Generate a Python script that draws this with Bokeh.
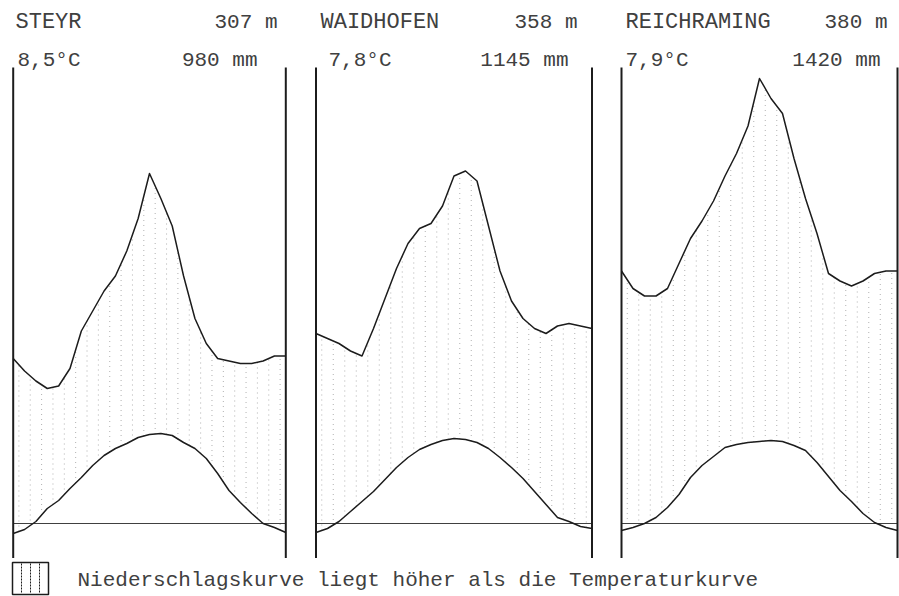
import numpy as np
from bokeh.plotting import figure
from bokeh.layouts import column, row
from bokeh.models import Range1d
from bokeh.embed import file_html
from bokeh.resources import INLINE
from bokeh.core.properties import value

# ---------------- data ----------------
# month position along the year axis (0 = start of January, 12 = end of December)
MONTH_POS = [0, 0.5, 1, 1.5, 2, 2.5, 3, 3.5, 4, 4.5, 5, 5.5, 6,
             6.5, 7, 7.5, 8, 8.5, 9, 9.5, 10, 10.5, 11, 11.5, 12]

STATIONS = ["STEYR", "WAIDHOFEN", "REICHRAMING"]
ALTITUDES = ["307 m", "358 m", "380 m"]
MEAN_TEMPS = ["8,5°C", "7,8°C", "7,9°C"]
ANNUAL_PRECIP = ["980 mm", "1145 mm", "1420 mm"]

# precipitation (mm)
steyr_precip = [66, 61, 57, 54, 55, 62, 77, 85, 93, 99, 109, 122, 140,
                130, 119, 99, 82, 72, 66, 65, 64, 64, 65, 67, 67]
waidhofen_precip = [76, 74, 72, 69, 67, 78, 90, 102, 112, 118, 120, 127, 139,
                    141, 137, 119, 101, 89, 82, 78, 76, 79, 80, 79, 78]
reichraming_precip = [101, 94, 91, 91, 94, 104, 114, 121, 129, 139, 148, 159, 178,
                      170, 164, 146, 130, 116, 100, 97, 95, 97, 100, 101, 101]

# temperature (°C)
steyr_temp = [-2.0, -1.2, 0.4, 3.0, 4.6, 7.0, 9.2, 11.6, 13.6, 15.0, 16.0, 17.2, 17.8,
              18.0, 17.6, 16.2, 15.0, 13.0, 10.0, 6.6, 4.2, 2.0, 0.0, -0.8, -1.8]
waidhofen_temp = [-1.8, -1.0, 0.4, 2.4, 4.4, 6.4, 8.8, 11.2, 13.2, 14.8, 15.8, 16.6, 17.0,
                  16.8, 16.2, 15.0, 13.2, 11.2, 9.0, 6.4, 3.8, 1.2, 0.4, -0.6, -1.0]
reichraming_temp = [-1.4, -0.8, 0.0, 1.2, 3.2, 5.8, 9.2, 11.6, 13.4, 15.2, 15.8, 16.2, 16.4,
                    16.6, 16.4, 15.6, 14.6, 12.2, 9.4, 6.6, 4.4, 2.0, 0.2, -0.8, -1.4]

LEGEND_TEXT = "Niederschlagskurve liegt höher als die Temperaturkurve"

PRECIP = [steyr_precip, waidhofen_precip, reichraming_precip]
TEMP = [steyr_temp, waidhofen_temp, reichraming_temp]

# ---------------- layout / style ----------------
FONT = "Liberation Mono"
INK = "#1c1c1c"
TXT = "#404040"
HATCH = "#a8a8a8"

BASE_Y = 523        # page y of the 0 °C line
PX_PER_C = 5        # 10 °C = 50 px ; 20 mm = 50 px
FIG_H = 558
Y0 = (BASE_Y - FIG_H) / PX_PER_C
Y1 = BASE_Y / PX_PER_C
BORDER_TOP = (BASE_Y - 67) / PX_PER_C

# figure origin (page x), figure width, left/right border (page x)
PANELS = [(0, 301, 12.7, 285.3),
          (301, 303, 315.5, 591.5),
          (604, 295, 621.0, 897.0)]

# text placement in page pixels: (x, align)
TITLE_Y, SUB_Y = 22, 60
TEXT_POS = [
    [(15, "left"), (277, "right"), (17, "left"), (257, "right")],
    [(320, "left"), (577, "right"), (328, "left"), (568, "right")],
    [(625, "left"), (887, "right"), (625, "left"), (880, "right")],
]

HATCH_POS = np.arange(0.25, 12, 0.5)


def bare_figure(w, h, xr, yr):
    f = figure(width=w, height=h, x_range=xr, y_range=yr,
               output_backend="svg", toolbar_location=None, title=None,
               x_axis_location=None, y_axis_location=None,
               min_border=0, min_border_left=0, min_border_right=0,
               min_border_top=0, min_border_bottom=0,
               outline_line_color=None, background_fill_color="white",
               border_fill_color="white")
    f.grid.visible = False
    return f


figs = []
for i in range(3):
    ox, W, lp, rp = PANELS[i]
    sc = (rp - lp) / 12.0
    p = bare_figure(W, FIG_H,
                    Range1d(-(lp - ox) / sc, 12 + (ox + W - rp) / sc),
                    Range1d(Y0, Y1))
    p.extra_y_ranges = {"mm": Range1d(Y0 * 2, Y1 * 2)}

    precip = PRECIP[i]
    temp = TEMP[i]

    # humid-period hatching between the two curves
    top = np.interp(HATCH_POS, MONTH_POS, precip) / 2.0
    bot = np.interp(HATCH_POS, MONTH_POS, temp)
    p.segment(x0=HATCH_POS, y0=bot, x1=HATCH_POS, y1=top,
              line_color=HATCH, line_width=1, line_dash="1 4", line_alpha=0.9)

    # 0 °C line and side borders
    p.segment(x0=[0], y0=[0], x1=[12], y1=[0], line_color="#404040", line_width=1.2)
    p.segment(x0=[0, 12], y0=[Y0, Y0], x1=[0, 12], y1=[BORDER_TOP, BORDER_TOP],
              line_color=INK, line_width=2)

    # curves
    p.line(MONTH_POS, precip, y_range_name="mm", line_color=INK, line_width=1.5,
           line_join="round")
    p.line(MONTH_POS, temp, line_color=INK, line_width=1.5, line_join="round")

    # texts
    def to_x(px):
        return (px - lp) / sc

    def to_y(py):
        return (BASE_Y - py) / PX_PER_C

    labels = [STATIONS[i], ALTITUDES[i], MEAN_TEMPS[i], ANNUAL_PRECIP[i]]
    rows_y = [TITLE_Y, TITLE_Y, SUB_Y, SUB_Y]
    sizes = ["22px", "21px", "21px", "21px"]
    for lab, (px, al), py, fs in zip(labels, TEXT_POS[i], rows_y, sizes):
        p.text(x=[to_x(px)], y=[to_y(py)], text=[lab],
               text_font=value(FONT), text_font_size=fs,
               text_align=al, text_baseline="middle", text_color=TXT)
    figs.append(p)

# legend strip (coordinates in page pixels)
lg = bare_figure(899, 596 - FIG_H, Range1d(0, 899), Range1d(596, FIG_H))
lg.quad(left=[12], right=[48], top=[562], bottom=[594],
        fill_color=None, line_color=INK, line_width=1.5)
lg.segment(x0=[21, 30, 39], y0=[563] * 3, x1=[21, 30, 39], y1=[593] * 3,
           line_color=INK, line_width=1, line_dash="2 1")
lg.text(x=[77], y=[580], text=[LEGEND_TEXT], text_font=value(FONT),
        text_font_size="21px", text_align="left", text_baseline="middle",
        text_color=TXT)

layout = column(row(*figs, spacing=0), lg, spacing=0)
open("out.html", "w").write(file_html(layout, INLINE, title="Klimadiagramme"))
